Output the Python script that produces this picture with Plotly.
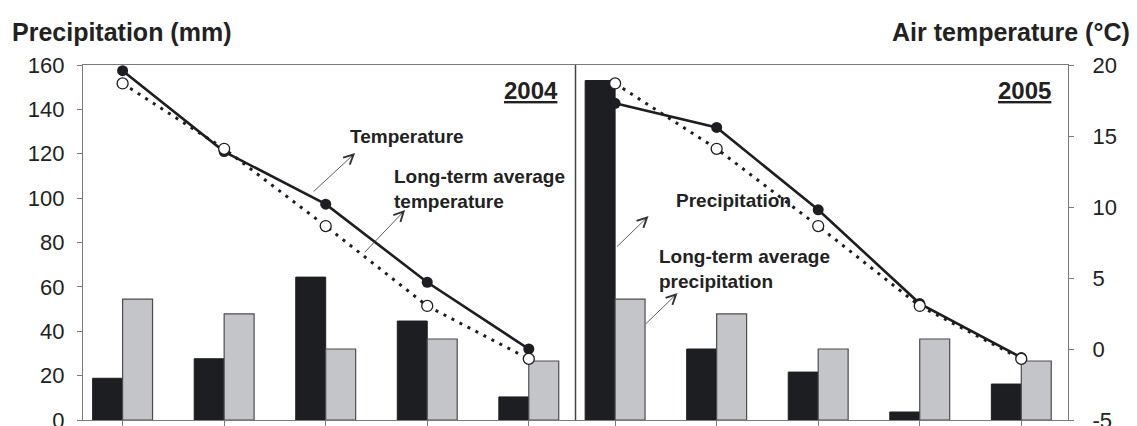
import plotly.graph_objects as go

# ---- data ----
month_idx = [0, 1, 2, 3, 4]
precip_2004 = [18.8, 27.6, 64.4, 44.6, 10.4]
precip_2005 = [153.0, 32.0, 21.6, 3.6, 16.2]
precip_longterm = [54.5, 47.8, 32.0, 36.5, 26.6]
temp_2004 = [19.6, 13.9, 10.2, 4.7, 0.0]
temp_2005 = [17.3, 15.6, 9.8, 3.2, -0.6]
temp_longterm = [18.7, 14.1, 8.66, 3.03, -0.7]
years = ["2004", "2005"]
precip_ticks = [0, 20, 40, 60, 80, 100, 120, 140, 160]
temp_ticks = [-5, 0, 5, 10, 15, 20]
temp_tick_labels = ["-5", "0", "5", "10", "15", "20"]

BLACK = "#1d1e21"
GRAY = "#c4c5c8"
AXIS = "#7a7a7a"
FONT = "Liberation Sans, Arial, sans-serif"
TXT = "#222222"

fig = go.Figure()

panels = [("x", precip_2004, temp_2004), ("x2", precip_2005, temp_2005)]
for xa, prec, temp in panels:
    fig.add_trace(go.Bar(x=month_idx, y=prec, xaxis=xa, yaxis="y",
                         marker=dict(color=BLACK, line=dict(color=BLACK, width=1)),
                         showlegend=False))
    fig.add_trace(go.Bar(x=month_idx, y=precip_longterm, xaxis=xa, yaxis="y",
                         marker=dict(color=GRAY, line=dict(color="#4d4d4d", width=1.2)),
                         showlegend=False))
for xa, prec, temp in panels:
    fig.add_trace(go.Scatter(x=month_idx, y=temp, xaxis=xa, yaxis="y2",
                             mode="lines+markers", cliponaxis=False,
                             line=dict(color=BLACK, width=2.6),
                             marker=dict(color=BLACK, size=11, line=dict(color=BLACK, width=0)),
                             showlegend=False))
    fig.add_trace(go.Scatter(x=month_idx, y=temp_longterm, xaxis=xa, yaxis="y2",
                             mode="lines+markers", cliponaxis=False,
                             line=dict(color=BLACK, width=3, dash="3px,6px"),
                             marker=dict(color="white", size=11, line=dict(color=BLACK, width=1.3)),
                             showlegend=False))

xcommon = dict(range=[-0.39, 4.46], tickmode="array", tickvals=month_idx,
               ticks="outside", ticklen=8, tickcolor=AXIS, showticklabels=False,
               showline=True, linecolor=AXIS, linewidth=1.3, mirror=True,
               showgrid=False, zeroline=False, anchor="y", automargin=False)

# page body adds an 8px offset, so the figure is sized to fit the window
fig.update_layout(
    width=1129, height=418,
    margin=dict(l=75, r=69, t=57, b=6),
    paper_bgcolor="white", plot_bgcolor="white",
    barmode="group", bargap=0.41, bargroupgap=0,
    font=dict(family=FONT, color=TXT),
    xaxis=dict(domain=[0, 0.5], **xcommon),
    xaxis2=dict(domain=[0.5, 1], **xcommon),
    yaxis=dict(range=[0, 160], domain=[0, 1], anchor="x", tickmode="array",
               tickvals=precip_ticks, ticks="outside", ticklen=5, tickcolor=AXIS,
               showline=True, linecolor=AXIS, linewidth=1.3, showgrid=False,
               zeroline=False, automargin=False, ticklabelstandoff=8,
               ticklabeloverflow="allow",
               tickfont=dict(size=22, family=FONT, color=TXT)),
    yaxis2=dict(range=[-5, 20], overlaying="y", side="right", anchor="x2",
                tickmode="array", tickvals=temp_ticks, ticktext=temp_tick_labels,
                ticks="outside", ticklen=5,
                tickcolor=AXIS, showline=True, linecolor=AXIS, linewidth=1.3,
                showgrid=False, zeroline=False, ticklabelstandoff=14, automargin=False,
                ticklabeloverflow="allow",
                tickfont=dict(size=22, family=FONT, color=TXT)),
    shapes=[dict(type="line", xref="paper", yref="paper", x0=0.5, x1=0.5, y0=0, y1=1,
                 line=dict(color="#444444", width=1.5))],
)

ann = []
title_font = dict(size=25, family=FONT, color=TXT)
ann.append(dict(text="<b>Precipitation (mm)</b>", xref="paper", yref="paper",
                x=-0.0741, y=1.093, xanchor="left", yanchor="middle", showarrow=False,
                font=title_font))
ann.append(dict(text="<b>Air temperature (°C)</b>", xref="paper", yref="paper",
                x=1.065, y=1.093, xanchor="right", yanchor="middle", showarrow=False,
                font=title_font))
for xa, yr in zip(["x", "x2"], years):
    ann.append(dict(text="<b><u>%s</u></b>" % yr, xref=xa, yref="y", x=4.31, y=148.5,
                    xanchor="right", yanchor="middle", showarrow=False,
                    font=dict(size=24, family=FONT, color=TXT)))

lab_font = dict(size=19, family=FONT, color=TXT)
arrow_style = dict(showarrow=True, text="", arrowhead=5, arrowsize=2.4,
                   arrowwidth=0.8, arrowcolor="#333333", standoff=0, startstandoff=0)
# 2004 panel labels (temperature units)
ann.append(dict(text="<b>Temperature</b>", xref="x", yref="y2", x=2.22, y=14.93,
                xanchor="left", yanchor="middle", showarrow=False, font=lab_font))
ann.append(dict(xref="x", yref="y2", x=2.29, y=13.8, axref="x", ayref="y2",
                ax=1.866, ay=10.99, **arrow_style))
ann.append(dict(text="<b>Long-term average<br>temperature</b>", xref="x", yref="y2",
                x=2.654, y=11.27, xanchor="left", yanchor="middle", align="left",
                showarrow=False, font=lab_font))
ann.append(dict(xref="x", yref="y2", x=2.782, y=9.79, axref="x", ayref="y2",
                ax=2.369, ay=6.7, **arrow_style))
# 2005 panel labels (precipitation units)
ann.append(dict(text="<b>Precipitation</b>", xref="x2", yref="y", x=0.584, y=99.1,
                xanchor="left", yanchor="middle", showarrow=False, font=lab_font))
ann.append(dict(xref="x2", yref="y", x=0.329, y=91.9, axref="x2", ayref="y",
                ax=0.004, ay=77.5, **arrow_style))
ann.append(dict(text="<b>Long-term average<br>precipitation</b>", xref="x2", yref="y",
                x=0.408, y=68.0, xanchor="left", yanchor="middle", align="left",
                showarrow=False, font=lab_font))
ann.append(dict(xref="x2", yref="y", x=0.615, y=57.2, axref="x2", ayref="y",
                ax=0.29, ay=42.8, **arrow_style))

fig.update_layout(annotations=ann)
fig.write_html("out.html")
